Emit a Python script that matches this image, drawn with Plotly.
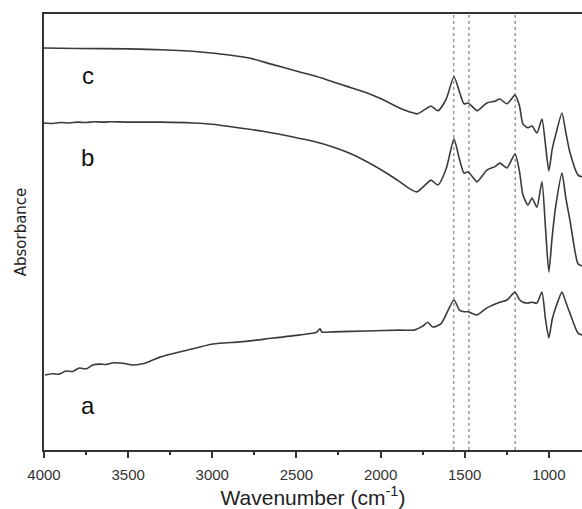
import plotly.graph_objects as go

# FTIR spectra (wavenumber in cm-1, absorbance in arbitrary units, offset per sample)
wn_c = [4000, 3800, 3500, 3300, 3070, 2900, 2780, 2650, 2480, 2350, 2280, 2200, 2080,
        2000, 1885, 1830, 1784, 1740, 1700, 1659, 1610, 1564, 1530, 1504, 1481, 1450,
        1427, 1368, 1320, 1291, 1249, 1201, 1175, 1154, 1124, 1100, 1071, 1041, 1020,
        1000, 980, 958, 922, 900, 875, 827, 803]
abs_c = [0.922, 0.921, 0.920, 0.918, 0.913, 0.906, 0.899, 0.885, 0.867, 0.853, 0.844,
         0.834, 0.819, 0.806, 0.784, 0.776, 0.771, 0.780, 0.789, 0.778, 0.805, 0.856,
         0.820, 0.794, 0.796, 0.786, 0.778, 0.796, 0.800, 0.805, 0.794, 0.814, 0.790,
         0.748, 0.739, 0.743, 0.727, 0.759, 0.700, 0.640, 0.690, 0.725, 0.773, 0.730,
         0.683, 0.631, 0.626]

wn_b = [4000, 3950, 3900, 3850, 3800, 3750, 3700, 3650, 3600, 3500, 3300, 3115, 3000,
        2877, 2700, 2520, 2400, 2283, 2180, 2081, 1985, 1885, 1830, 1784, 1740, 1700,
        1659, 1610, 1564, 1530, 1504, 1481, 1450, 1427, 1368, 1320, 1291, 1249, 1201,
        1175, 1154, 1124, 1100, 1071, 1041, 1020, 1000, 980, 958, 922, 900, 875, 827, 803]
abs_b = [0.750, 0.749, 0.751, 0.750, 0.752, 0.751, 0.753, 0.752, 0.753, 0.752, 0.752,
         0.750, 0.747, 0.741, 0.731, 0.718, 0.708, 0.695, 0.680, 0.661, 0.640, 0.615,
         0.600, 0.592, 0.606, 0.619, 0.608, 0.645, 0.713, 0.665, 0.635, 0.638, 0.625,
         0.615, 0.642, 0.650, 0.658, 0.647, 0.679, 0.640, 0.585, 0.562, 0.578, 0.557,
         0.615, 0.510, 0.408, 0.490, 0.562, 0.635, 0.580, 0.528, 0.427, 0.422]

wn_a = [3994, 3950, 3910, 3870, 3830, 3790, 3750, 3710, 3667, 3630, 3590, 3530, 3471,
        3400, 3311, 3150, 2996, 2835, 2675, 2479, 2380, 2360, 2350, 2340, 2280, 2080,
        1885, 1800, 1750, 1720, 1690, 1640, 1564, 1530, 1504, 1481, 1427, 1368, 1291,
        1249, 1201, 1175, 1154, 1124, 1100, 1071, 1041, 1020, 1000, 980, 958, 922, 900,
        875, 827, 803]
abs_a = [0.172, 0.175, 0.174, 0.181, 0.180, 0.188, 0.186, 0.195, 0.197, 0.196, 0.200,
         0.199, 0.195, 0.199, 0.213, 0.229, 0.243, 0.248, 0.255, 0.264, 0.270, 0.278,
         0.271, 0.270, 0.271, 0.273, 0.275, 0.275, 0.284, 0.293, 0.282, 0.290, 0.344,
         0.320, 0.317, 0.317, 0.310, 0.326, 0.339, 0.344, 0.362, 0.345, 0.339, 0.337,
         0.339, 0.337, 0.362, 0.300, 0.257, 0.300, 0.328, 0.362, 0.340, 0.314, 0.268,
         0.264]

sample_labels = ["a", "b", "c"]
label_pos_wn = [3739, 3739, 3739]
label_pos_abs = [0.103, 0.672, 0.860]

marker_wn = [1565, 1475, 1200]

x_ticks = [4000, 3500, 3000, 2500, 2000, 1500, 1000]

line_color = "#3a3a3a"

fig = go.Figure()
for wn, ab in [(wn_a, abs_a), (wn_b, abs_b), (wn_c, abs_c)]:
    fig.add_trace(go.Scatter(
        x=wn, y=ab, mode="lines",
        line=dict(color=line_color, width=1.6, shape="spline", smoothing=0.6),
        showlegend=False, hoverinfo="skip",
    ))

for w in marker_wn:
    fig.add_shape(type="line", x0=w, x1=w, y0=0, y1=1, xref="x", yref="paper",
                  line=dict(color="#8a8a8a", width=1.3, dash="dot"), layer="below")

for lab, xw, ya in zip(sample_labels, label_pos_wn, label_pos_abs):
    fig.add_annotation(x=xw, y=ya, text=lab, showarrow=False,
                       font=dict(family="Liberation Sans, Arial", size=24, color="#111"),
                       xanchor="center", yanchor="middle")

fig.update_layout(
    width=582, height=509,
    margin=dict(l=44, r=0, t=14, b=59),
    paper_bgcolor="white", plot_bgcolor="white",
    font=dict(family="Liberation Sans, Arial", color="#222"),
    xaxis=dict(
        range=[4000, 803], tickvals=x_ticks,
        ticks="outside", ticklen=6, tickwidth=1.5, tickcolor="#333",
        minor=dict(dtick=250, tick0=0, ticks="outside", ticklen=3, tickwidth=1.5,
                   tickcolor="#333", showgrid=False),
        showline=True, linecolor="#333", linewidth=2, mirror=True,
        showgrid=False, zeroline=False,
        ticklabelstandoff=4,
        tickfont=dict(size=15, color="#333"),
        title=dict(text="Wavenumber (cm<sup>-1</sup>)",
                   font=dict(size=21, color="#222"), standoff=5),
    ),
    yaxis=dict(
        range=[0, 1], showticklabels=False, ticks="",
        showline=True, linecolor="#333", linewidth=2, mirror=False,
        showgrid=False, zeroline=False,
        title=dict(text="Absorbance",
                   font=dict(family="DejaVu Sans", size=15, color="#222"),
                   standoff=12),
    ),
)

fig.write_html("out.html")
